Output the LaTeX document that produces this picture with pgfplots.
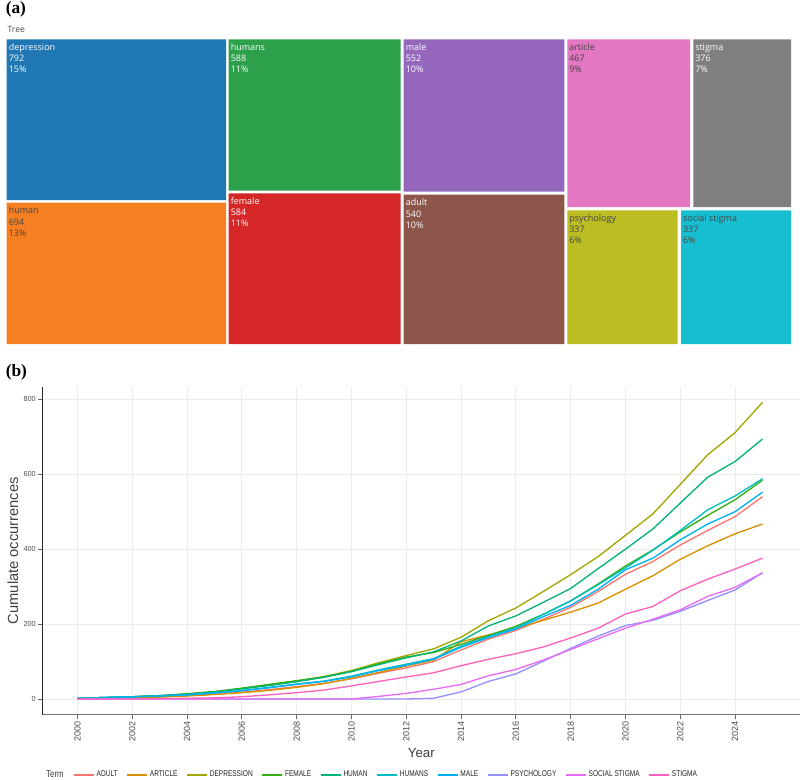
\documentclass[border=0pt]{standalone}
\usepackage{fontspec}
\usepackage{pgfplots}
\pgfplotsset{compat=1.18}
\usepackage{pgfplotstable}
\setmainfont{Liberation Sans}
\newfontfamily\osans{Open Sans}
\newfontfamily\tnr{Liberation Serif}
\newfontfamily\narrow[FakeStretch=0.78]{Liberation Sans}

\definecolor{tmBlue}{HTML}{1F77B4}
\definecolor{tmOrange}{HTML}{F68021}
\definecolor{tmGreen}{HTML}{2CA04A}
\definecolor{tmRed}{HTML}{D62728}
\definecolor{tmPurple}{HTML}{9467BD}
\definecolor{tmBrown}{HTML}{8C564B}
\definecolor{tmPink}{HTML}{E377C2}
\definecolor{tmGrey}{HTML}{7F7F7F}
\definecolor{tmOlive}{HTML}{BCBD22}
\definecolor{tmCyan}{HTML}{17BECF}
\definecolor{tmText}{HTML}{444444}

\definecolor{cAdult}{HTML}{F8766D}
\definecolor{cArticle}{HTML}{D89000}
\definecolor{cDepression}{HTML}{A3A500}
\definecolor{cFemale}{HTML}{34AE10}
\definecolor{cHuman}{HTML}{00B47A}
\definecolor{cHumans}{HTML}{00BFC4}
\definecolor{cMale}{HTML}{00B0F6}
\definecolor{cPsychology}{HTML}{9590FF}
\definecolor{cSocial}{HTML}{E76BF3}
\definecolor{cStigma}{HTML}{FF62BC}

\tikzset{tmlab/.style={anchor=north west, inner sep=0pt, align=left,
  font=\osans\fontsize{6.75pt}{8.4pt}\selectfont}}

\pgfplotstableread{
year adult article depression female human humans male psychology socialstigma stigma
2000 1 1 2 2 2 2 2 0 0 0
2001 2 2 4 4 4 4 4 0 0 0
2002 4 3 6 6 6 6 6 0 0 0
2003 6 5 9 9 9 8 8 0 0 1
2004 9 8 13 14 13 11 11 0 0 2
2005 13 12 19 20 19 16 16 0 0 3
2006 18 17 28 29 27 23 22 0 0 6
2007 25 23 38 39 36 31 30 0 0 11
2008 33 31 48 49 46 40 39 0 0 17
2009 42 41 60 59 58 48 47 0 0 24
2010 54 55 76 74 73 61 59 0 0 35
2011 69 71 97 94 92 78 76 0 7 47
2012 83 88 116 112 110 93 90 0 15 59
2013 100 104 134 124 126 108 106 2 26 70
2014 131 153 165 146 155 141 138 19 39 89
2015 160 171 209 170 195 167 164 47 62 106
2016 183 188 243 194 222 190 187 67 79 121
2017 213 210 287 226 258 226 220 101 104 139
2018 245 232 332 262 295 262 250 135 132 163
2019 287 256 380 307 348 305 293 168 161 189
2020 333 293 437 355 400 350 345 196 189 227
2021 367 329 494 398 454 397 376 210 213 247
2022 411 373 573 446 523 450 425 234 238 289
2023 450 409 652 490 592 505 467 263 274 320
2024 487 441 711 532 634 542 500 291 298 347
2025 540 467 792 584 694 588 552 337 337 376
}\cumdata

\begin{document}
\begin{tikzpicture}
\path[use as bounding box] (0,0) rectangle (600pt,-584.25pt);

% ---------- (a) treemap ----------
\begin{axis}[at={(0pt,0pt)}, anchor=north west, scale only axis,
  width=600pt, height=584.25pt, xmin=0, xmax=800, ymin=0, ymax=779,
  y dir=reverse, hide axis, clip=false]
\addplot[draw=none, fill=tmBlue]   coordinates {(6.7,39.3) (226,39.3) (226,200) (6.7,200) (6.7,39.3)};
\addplot[draw=none, fill=tmOrange] coordinates {(6.7,202.7) (226,202.7) (226,344) (6.7,344) (6.7,202.7)};
\addplot[draw=none, fill=tmGreen]  coordinates {(228.7,39.3) (400.7,39.3) (400.7,190.7) (228.7,190.7) (228.7,39.3)};
\addplot[draw=none, fill=tmRed]    coordinates {(228.7,193.3) (400.7,193.3) (400.7,344) (228.7,344) (228.7,193.3)};
\addplot[draw=none, fill=tmPurple] coordinates {(403.7,39.3) (564.3,39.3) (564.3,191.7) (403.7,191.7) (403.7,39.3)};
\addplot[draw=none, fill=tmBrown]  coordinates {(403.7,194.7) (564.3,194.7) (564.3,344) (403.7,344) (403.7,194.7)};
\addplot[draw=none, fill=tmPink]   coordinates {(567.3,39.3) (690,39.3) (690,207) (567.3,207) (567.3,39.3)};
\addplot[draw=none, fill=tmGrey]   coordinates {(693.3,39.3) (791,39.3) (791,207) (693.3,207) (693.3,39.3)};
\addplot[draw=none, fill=tmOlive]  coordinates {(567.3,210.3) (677.7,210.3) (677.7,344) (567.3,344) (567.3,210.3)};
\addplot[draw=none, fill=tmCyan]   coordinates {(681,210.3) (791,210.3) (791,344) (681,344) (681,210.3)};

\node[tmlab, text=white]  at (axis cs:8.5,39.3)   {\rule{0pt}{8.25pt}depression\\792\\15\%};
\node[tmlab, text=tmText] at (axis cs:8.5,202.7)  {\rule{0pt}{8.25pt}human\\694\\13\%};
\node[tmlab, text=white]  at (axis cs:230.5,39.3) {\rule{0pt}{8.25pt}humans\\588\\11\%};
\node[tmlab, text=white]  at (axis cs:230.5,193.3){\rule{0pt}{8.25pt}female\\584\\11\%};
\node[tmlab, text=white]  at (axis cs:405.5,39.3) {\rule{0pt}{8.25pt}male\\552\\10\%};
\node[tmlab, text=white]  at (axis cs:405.5,194.7){\rule{0pt}{8.25pt}adult\\540\\10\%};
\node[tmlab, text=tmText] at (axis cs:569,39.3)   {\rule{0pt}{8.25pt}article\\467\\9\%};
\node[tmlab, text=white]  at (axis cs:695,39.3)   {\rule{0pt}{8.25pt}stigma\\376\\7\%};
\node[tmlab, text=tmText] at (axis cs:569,210.3)  {\rule{0pt}{8.25pt}psychology\\337\\6\%};
\node[tmlab, text=tmText] at (axis cs:682.8,210.3){\rule{0pt}{8.25pt}social stigma\\337\\6\%};

\node[anchor=base west, inner sep=0pt, font=\tnr\bfseries\fontsize{13pt}{15pt}\selectfont] at (axis cs:5.5,13.8) {(a)};
\node[anchor=base west, inner sep=0pt, font=\osans\fontsize{6.5pt}{8pt}\selectfont, text=black!70] at (axis cs:7.3,32.7) {Tree};
\node[anchor=base west, inner sep=0pt, font=\tnr\bfseries\fontsize{13pt}{15pt}\selectfont] at (axis cs:5.5,376.5) {(b)};
\node[anchor=base west, inner sep=0pt, font=\narrow\fontsize{7.5pt}{8pt}\selectfont, text=black!75] at (axis cs:46,777.5) {Term};
\end{axis}

% ---------- (b) line chart ----------
\begin{axis}[at={(32.025pt,-290.025pt)}, anchor=north west, scale only axis,
  width=568pt, height=246pt,
  xmin=1998.73, xmax=2026.37, ymin=-41.9, ymax=833.6,
  axis x line*=bottom, axis y line*=left,
  axis line style={-},
  x axis line style={black!55, line width=0.8pt},
  y axis line style={black!85, line width=1pt},
  xtick={2000,2002,...,2024}, ytick={0,200,...,800},
  grid=major, major grid style={color=black!8, line width=0.6pt},
  tick align=outside, major tick length=3.5pt,
  tick style={black!60, line width=0.6pt},
  /pgf/number format/1000 sep={}, /pgf/number format/assume math mode=true,
  xticklabel style={rotate=90, anchor=east, font=\fontsize{6.75pt}{7pt}\selectfont, text=black!70, inner sep=1.5pt},
  yticklabel style={font=\fontsize{5.5pt}{6pt}\selectfont, text=black!70, inner sep=1.5pt},
  xlabel={Year}, ylabel={Cumulate occurrences},
  xlabel style={font=\fontsize{10pt}{12pt}\selectfont, text=black!75},
  ylabel style={font=\fontsize{11pt}{13pt}\selectfont, text=black!75, yshift=-1pt},
  legend columns=-1,
  legend image code/.code={\draw[#1, line width=1pt] (0pt,0pt) -- (15pt,0pt);},
  legend style={at={(rel axis cs:0.040,-0.184)}, anchor=west, draw=none, fill=none,
    inner sep=0pt, font=\narrow\fontsize{6.3pt}{7pt}\selectfont, text=black!85,
    nodes={inner sep=0pt},
    /tikz/every odd column/.append style={column sep=1.6pt},
    /tikz/every even column/.append style={column sep=6.6pt}},
  legend cell align=left,
  every axis plot/.append style={line width=1pt}
  ]
\addplot[cAdult]      table[x=year, y=adult]        {\cumdata};
\addplot[cArticle]    table[x=year, y=article]      {\cumdata};
\addplot[cDepression] table[x=year, y=depression]   {\cumdata};
\addplot[cFemale]     table[x=year, y=female]       {\cumdata};
\addplot[cHuman]      table[x=year, y=human]        {\cumdata};
\addplot[cHumans]     table[x=year, y=humans]       {\cumdata};
\addplot[cMale]       table[x=year, y=male]         {\cumdata};
\addplot[cPsychology] table[x=year, y=psychology]   {\cumdata};
\addplot[cSocial]     table[x=year, y=socialstigma] {\cumdata};
\addplot[cStigma]     table[x=year, y=stigma]       {\cumdata};
\legend{ADULT, ARTICLE, DEPRESSION, FEMALE, HUMAN, HUMANS, MALE, PSYCHOLOGY, SOCIAL STIGMA, STIGMA}
\end{axis}
\end{tikzpicture}
\end{document}
